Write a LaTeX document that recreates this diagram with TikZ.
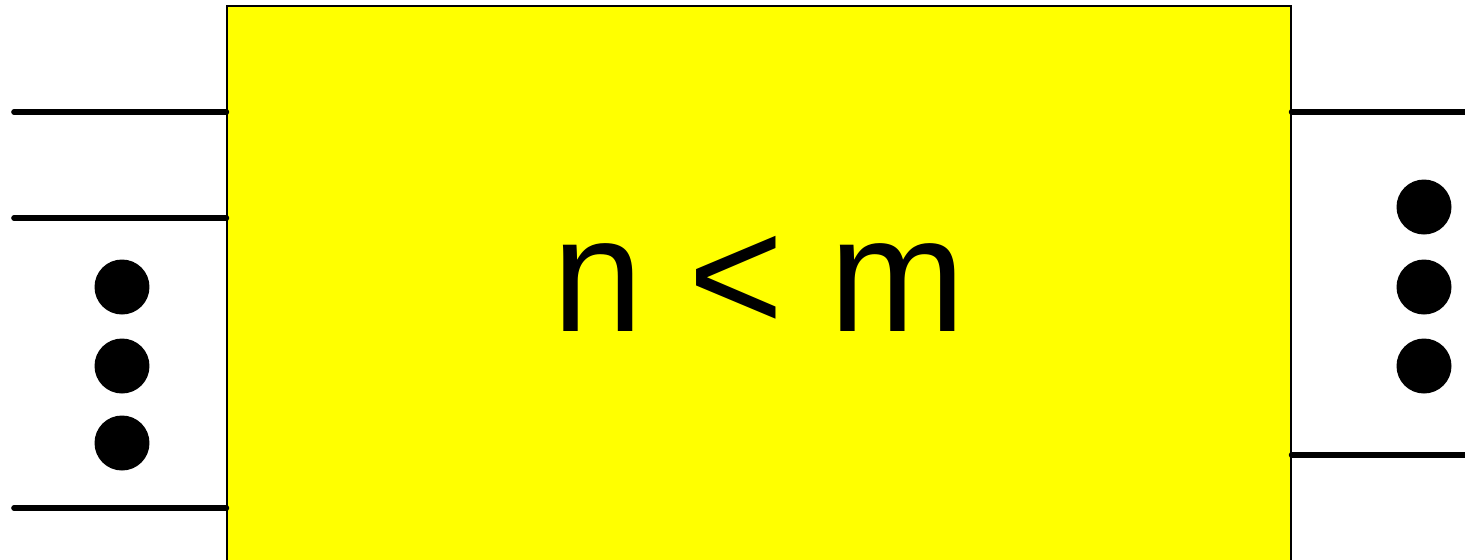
\documentclass[tikz,border=0pt]{standalone}
\usepackage{fontspec}
\setmainfont{Liberation Sans}
\usepackage{xcolor}
\usepackage{tikz}
\usetikzlibrary{
  positioning,
  calc
}
\definecolor{BoxYellow}{RGB}{255,255,0}
\definecolor{InkBlack}{RGB}{0,0,0}
\tikzset{
  %%── block and ports ──────────────────────────────
  block/.style = {
    rectangle, draw = InkBlack, line width = 0.8pt,
    fill = BoxYellow,
    minimum width = 21.28cm, minimum height = 11.12cm,
    inner sep = 0pt, align = center,
    font = \fontsize{93}{112}\selectfont
  },
  wire/.style = {line width = 3.2pt, line cap = round, color = InkBlack},
  dot/.style  = {circle, fill = InkBlack, inner sep = 0pt, minimum size = 1.1cm},
}
\begin{document}
\begin{tikzpicture}[x=0.02cm, y=-0.02cm]
  \useasboundingbox (0,0) rectangle (1465,559);
  \clip (0,0) rectangle (1465,559);
  \node[block] (box) at (759,284) {n < m};
  %% inputs
  \coordinate (in1) at (14,112);
  \coordinate (in2) at (14,218);
  \coordinate (inn) at (14,508);
  \draw[wire] (in1) -- (in1 -| box.west);
  \draw[wire] (in2) -- (in2 -| box.west);
  \draw[wire] (inn) -- (inn -| box.west);
  \node[dot] (ld1) at (122,287) {};
  \node[dot] (ld2) at (122,366) {};
  \node[dot] (ld3) at (122,443) {};
  %% outputs
  \coordinate (out1) at (1470,112);
  \coordinate (outm) at (1470,455);
  \draw[wire] (box.east |- out1) -- (out1);
  \draw[wire] (box.east |- outm) -- (outm);
  \node[dot] (rd1) at (1424,207) {};
  \node[dot] (rd2) at (1424,287) {};
  \node[dot] (rd3) at (1424,366) {};
\end{tikzpicture}
\end{document}
